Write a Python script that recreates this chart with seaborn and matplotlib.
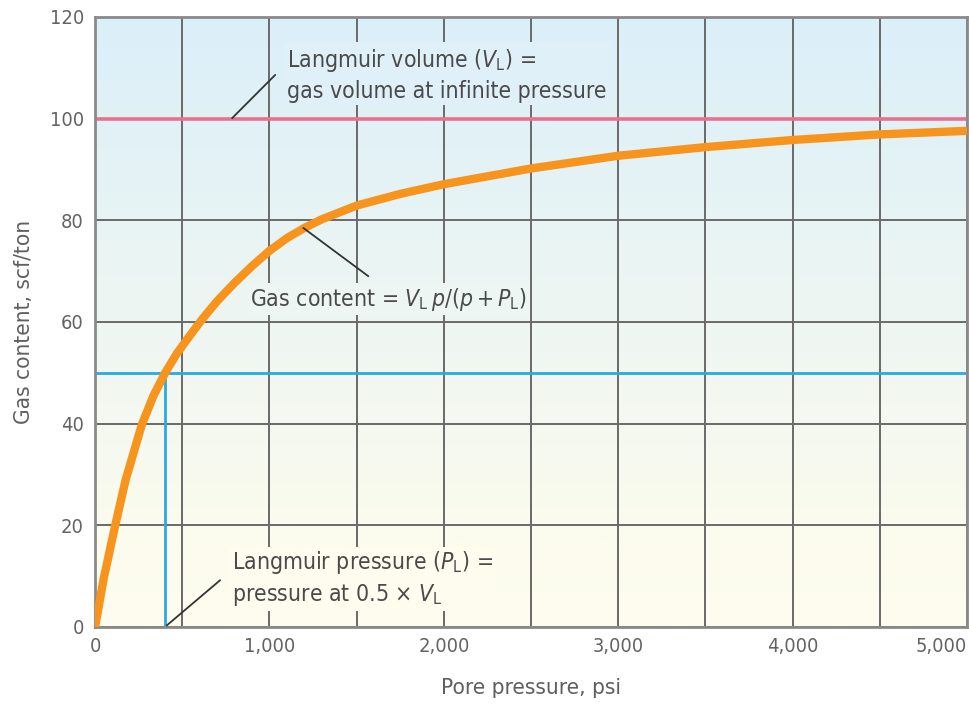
import numpy as np
import pandas as pd
import matplotlib
matplotlib.use("Agg")
import matplotlib.pyplot as plt
from matplotlib import font_manager
from matplotlib.colors import LinearSegmentedColormap
import seaborn as sns

# ---- data ----
pressure = [0, 50, 115, 175, 268, 335, 402, 469, 545, 620, 700, 800, 900,
            1000, 1100, 1200, 1300, 1500, 1750, 2000, 2500, 3000, 3500,
            4000, 4500, 5000]
gas_content = [0, 9.6, 19.9, 28.9, 39.8, 45.5, 50.0, 53.8, 57.4, 60.8, 64.1,
               67.7, 71.0, 74.0, 76.5, 78.5, 80.2, 82.9, 85.2, 87.1, 90.2,
               92.7, 94.4, 95.8, 96.9, 97.6]
langmuir_volume = 100
langmuir_pressure = 400
half_volume = 50
x_ticks = [0, 1000, 2000, 3000, 4000, 5000]
x_tick_labels = ["0", "1,000", "2,000", "3,000", "4,000", "5,000"]
y_ticks = [0, 20, 40, 60, 80, 100, 120]

sns.set_theme(style="white")

names = {f.name for f in font_manager.fontManager.ttflist}
cond = [f for f in font_manager.fontManager.ttflist
        if "Condensed" in f.fname and "DejaVuSans" in f.fname]
if "Liberation Sans Narrow" in names:
    FONT = ["Liberation Sans Narrow", "DejaVu Sans"]
    STRETCH = "normal"
    SCALE = 1.05
elif cond:
    FONT = ["DejaVu Sans", "DejaVu Sans"]
    STRETCH = "condensed"
    SCALE = 0.9
else:
    FONT = ["DejaVu Sans"]
    STRETCH = "normal"
    SCALE = 0.78

plt.rcParams["font.family"] = FONT
plt.rcParams["font.stretch"] = STRETCH
plt.rcParams["mathtext.fontset"] = "custom"
plt.rcParams["mathtext.rm"] = FONT[0]
plt.rcParams["mathtext.it"] = FONT[0] + ":italic"

fig = plt.figure(figsize=(9.7, 7.04), dpi=100)
ax = fig.add_axes([0.098, 0.1094, 0.899, 0.8665])

# background gradient
cmap = LinearSegmentedColormap.from_list(
    "bg", [(0.0, "#fefdee"), (0.17, "#fbfbee"), (0.5, "#eef6f2"), (1.0, "#dbeff9")])
grad = np.linspace(0, 1, 256).reshape(-1, 1)
ax.imshow(grad, extent=[0, 5000, 0, 120], origin="lower", aspect="auto",
          cmap=cmap, zorder=0)

df = pd.DataFrame({"pressure": pressure, "gas": gas_content})

# reference lines
ax.axhline(langmuir_volume, color="#e8718d", lw=2.6, zorder=2)
ax.plot([0, 5000], [half_volume, half_volume], color="#29abe2", lw=2.0, zorder=2)
ax.plot([langmuir_pressure, langmuir_pressure], [0, half_volume],
        color="#29abe2", lw=2.0, zorder=2)

sns.lineplot(data=df, x="pressure", y="gas", ax=ax, color="#f7941d", lw=6,
             zorder=3, solid_capstyle="butt", solid_joinstyle="round")

ax.set_xlim(0, 5000)
ax.set_ylim(0, 120)
grid_x = np.arange(0, 5001, 500)
ax.set_xticks(grid_x)
ax.set_xticklabels([x_tick_labels[x_ticks.index(v)] if v in x_ticks else ""
                    for v in grid_x])
ax.set_yticks(y_ticks)
ax.set_yticklabels([str(v) for v in y_ticks])
ax.tick_params(length=0, labelsize=16 * SCALE, colors="#636363")
ax.tick_params(axis="y", pad=8)
ax.tick_params(axis="x", pad=7)
ax.get_xticklabels()[-1].set_horizontalalignment("right")
ax.grid(True, color="#6a6a6a", lw=1.4, zorder=1)
ax.set_axisbelow(True)
for s in ax.spines.values():
    s.set_color("#8a8a8a")
    s.set_linewidth(2)

ax.set_xlabel("Pore pressure, psi", fontsize=18 * SCALE, color="#5f5f5f", labelpad=16)
ax.set_ylabel("Gas content, scf/ton", fontsize=18 * SCALE, color="#5f5f5f", labelpad=11)

def bg(y):
    return cmap(y / 120)

tc = "#4a4a4a"
lc = "#333333"
fs = 18.3 * SCALE
# annotations
ax.plot([786, 1033], [100.1, 108.6], color=lc, lw=1.3, zorder=4)
ax.text(1100, 108.6, "Langmuir volume ($V_\\mathrm{L}$) =\ngas volume at infinite pressure",
        fontsize=fs, color=tc, ha="left", va="center", linespacing=1.3, zorder=5,
        bbox=dict(facecolor=bg(108), edgecolor="none", pad=2))

ax.plot([1194, 1567], [78.5, 69.0], color=lc, lw=1.3, zorder=4)
ax.text(890, 64.5, "Gas content = $V_\\mathrm{L}\\,p/(p + P_\\mathrm{L})$",
        fontsize=fs, color=tc, ha="left", va="center", zorder=5,
        bbox=dict(facecolor=bg(64), edgecolor="none", pad=2))

ax.plot([411, 717], [0.3, 9.2], color=lc, lw=1.3, zorder=4)
ax.text(786, 9.5, "Langmuir pressure ($P_\\mathrm{L}$) =\npressure at 0.5 × $V_\\mathrm{L}$",
        fontsize=fs, color=tc, ha="left", va="center", linespacing=1.3, zorder=5,
        bbox=dict(facecolor=bg(9), edgecolor="none", pad=2))

fig.savefig("out.png", dpi=100)
